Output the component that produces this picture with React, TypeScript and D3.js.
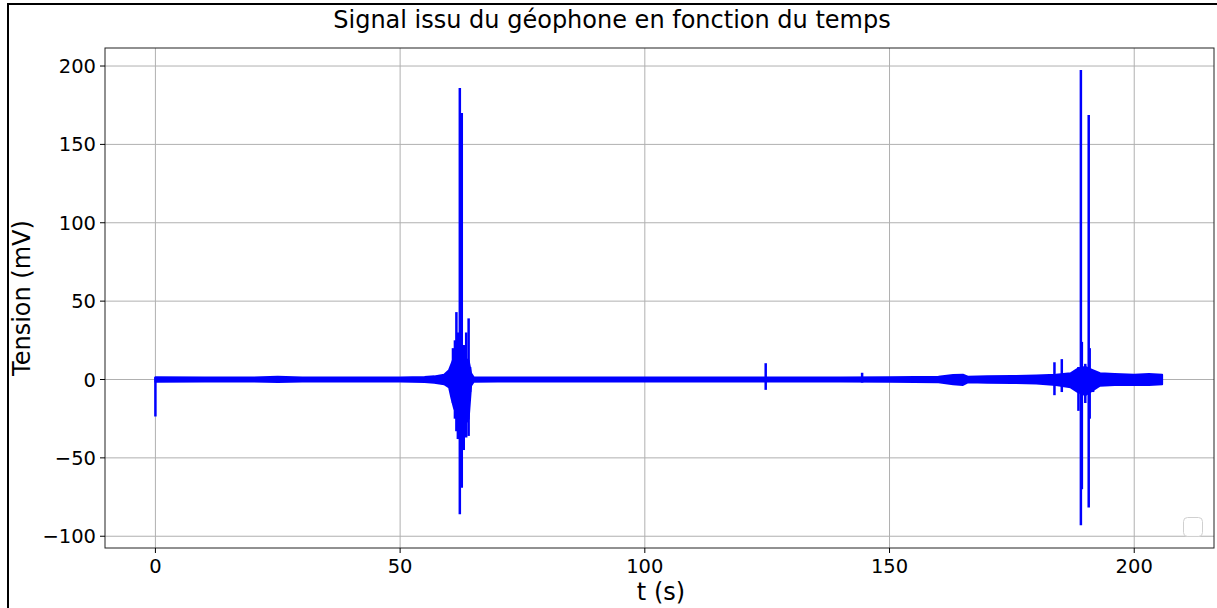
import React from "react";
import * as d3 from "d3";

// Background noise envelope of the geophone signal (time in s, bounds in mV)
const bandT = [0, 10, 20, 25, 30, 40, 50, 55, 57, 59, 60, 60.5, 61, 62, 63, 64, 64.5, 65, 70, 80, 90, 100, 110, 120, 130, 140, 150, 160, 163, 165, 166, 170, 175, 180, 184, 187, 188.5, 190, 191.5, 193, 196, 200, 203, 205.7];
const bandHi = [1.5, 1.3, 1.3, 1.8, 1.2, 1.2, 1.3, 1.6, 2, 3, 6, 10, 14, 16, 14, 12, 4, 1.5, 1.3, 1.2, 1.3, 1.2, 1.2, 1.2, 1.3, 1.3, 1.5, 1.8, 2.8, 3, 1.8, 2, 2.2, 2.5, 3, 4, 7, 8, 6, 4, 3.5, 3, 3.5, 3];
const bandLo = [-1.5, -1.3, -1.3, -1.6, -1.2, -1.2, -1.3, -1.6, -2, -3, -5, -12, -18, -25, -30, -25, -4, -1.5, -1.3, -1.2, -1.3, -1.2, -1.2, -1.2, -1.3, -1.3, -1.5, -1.8, -3, -3.5, -1.8, -2, -2.2, -2.5, -3.5, -5, -8, -10, -7, -4, -3.5, -3.5, -3.5, -3];

// Individual impulses (time in s, max and min in mV)
const spikeT = [0, 60.8, 61.2, 61.5, 61.8, 62.2, 62.6, 63.0, 63.5, 64.0, 64.3, 124.7, 144.4, 183.7, 185.2, 188.6, 189.1, 189.3, 190.0, 190.7, 190.9, 191.6];
const spikeHi = [1.5, 20, 25, 43, 30, 186, 170, 22, 30, 39, 8, 10.4, 4.3, 11, 13, 8, 197.4, 24, 10, 168.7, 20, 6];
const spikeLo = [-23.6, -15, -25, -33, -38, -86, -69, -45, -37, -36, -8, -6.6, -2, -10, -8, -20, -93, -70, -15, -81.6, -25, -8];

const xTicks = [0, 50, 100, 150, 200];
const yTicks = [-100, -50, 0, 50, 100, 150, 200];

const W = 1217;
const H = 608;
const left = 105, right = 1214, top = 48, bottom = 548;
const font = "DejaVu Sans, sans-serif";

export default function App() {
  const x = d3.scaleLinear().domain([-10.3, 216.3]).range([left, right]);
  const y = d3.scaleLinear().domain([-107.5, 211.5]).range([bottom, top]);

  const band = bandT.map((t, i) => ({ t, hi: bandHi[i], lo: bandLo[i] }));
  const area = d3
    .area<{ t: number; hi: number; lo: number }>()
    .x((d) => x(d.t))
    .y0((d) => y(d.lo))
    .y1((d) => y(d.hi));
  const seg = d3.line<[number, number]>().x((d) => x(d[0])).y((d) => y(d[1]));
  const fmt = (v: number) => (v < 0 ? "\u2212" + Math.abs(v) : String(v));

  return (
    <div style={{ position: "absolute", left: 0, top: 0 }}>
      <svg width={W} height={H} style={{ display: "block", background: "#fff" }}>
        <rect x={8} y={4} width={W + 10} height={H + 10} fill="#fff" stroke="#000" strokeWidth={2} />
        <text x={612} y={28} textAnchor="middle" fontFamily={font} fontSize={24} fill="#000">
          Signal issu du géophone en fonction du temps
        </text>

        {/* grid */}
        <g stroke="#b0b0b0" strokeWidth={1}>
          {xTicks.map((t) => (
            <line key={"gx" + t} x1={x(t)} x2={x(t)} y1={top} y2={bottom} />
          ))}
          {yTicks.map((v) => (
            <line key={"gy" + v} x1={left} x2={right} y1={y(v)} y2={y(v)} />
          ))}
        </g>

        {/* signal */}
        <path d={area(band) || ""} fill="#0000ff" stroke="#0000ff" strokeWidth={2} strokeLinejoin="round" />
        <g stroke="#0000ff" strokeWidth={2.5} fill="none">
          {spikeT.map((t, i) => (
            <path key={"s" + i} d={seg([[t, spikeLo[i]], [t, spikeHi[i]]]) || ""} />
          ))}
        </g>

        {/* empty legend */}
        <rect x={1183.5} y={517.5} width={19} height={19} rx={4} fill="#fff" fillOpacity={0.8} stroke="#d0d0d0" strokeWidth={1} />

        {/* axes frame */}
        <rect x={left} y={top} width={right - left} height={bottom - top} fill="none" stroke="#222" strokeWidth={1} />

        {/* ticks */}
        <g fontFamily={font} fontSize={19.5} fill="#000">
          {xTicks.map((t) => (
            <g key={"tx" + t}>
              <line x1={x(t)} x2={x(t)} y1={bottom} y2={bottom + 5} stroke="#000" />
              <text x={x(t)} y={bottom + 25} textAnchor="middle">{fmt(t)}</text>
            </g>
          ))}
          {yTicks.map((v) => (
            <g key={"ty" + v}>
              <line x1={left - 5} x2={left} y1={y(v)} y2={y(v)} stroke="#000" />
              <text x={left - 9} y={y(v) + 7} textAnchor="end">{fmt(v)}</text>
            </g>
          ))}
        </g>

        <text x={661} y={600} textAnchor="middle" fontFamily={font} fontSize={24} fill="#000">t (s)</text>
        <text
          transform={`translate(30, ${(top + bottom) / 2}) rotate(-90)`}
          textAnchor="middle"
          fontFamily={font}
          fontSize={24}
          fill="#000"
        >
          Tension (mV)
        </text>
      </svg>
    </div>
  );
}
